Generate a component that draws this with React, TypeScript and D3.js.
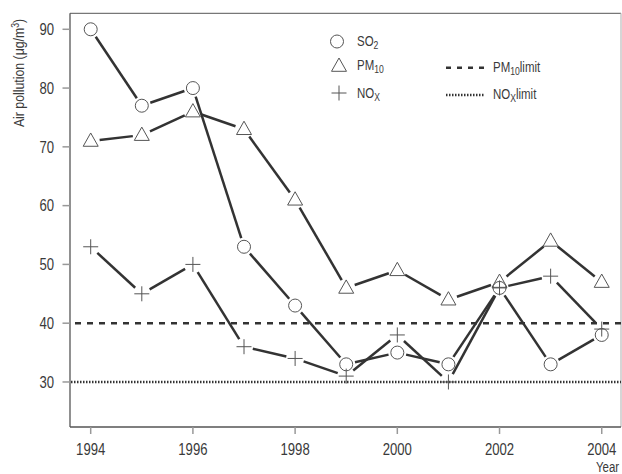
import React from "react";
import * as d3 from "d3";

const years = [1994, 1995, 1996, 1997, 1998, 1999, 2000, 2001, 2002, 2003, 2004];
const so2 = [90, 77, 80, 53, 43, 33, 35, 33, 46, 33, 38];
const pm10 = [71, 72, 76, 73, 61, 46, 49, 44, 47, 54, 47];
const nox = [53, 45, 50, 36, 34, 31, 38, 30, 46, 48, 39];
const yTicks = [30, 40, 50, 60, 70, 80, 90];
const xTicks = [1994, 1996, 1998, 2000, 2002, 2004];
const pm10Limit = 40;
const noxLimit = 30;

const W = 622;
const H = 474;
const FONT = "'Liberation Sans', Arial, sans-serif";
const SX = 0.82;
const TXT = "#3a3a3a";

const x = d3.scaleLinear().domain([1993.595, 2004.377]).range([70, 621]);
const y = d3.scaleLinear().domain([22.34, 92.72]).range([427, 13.3]);

const LINE = "#333";
const MARK = "#555";
const GAP = 9;

function segments(vals: number[]) {
  const out: string[] = [];
  for (let i = 0; i < vals.length - 1; i++) {
    const x1 = x(years[i]), y1 = y(vals[i]);
    const x2 = x(years[i + 1]), y2 = y(vals[i + 1]);
    const dx = x2 - x1, dy = y2 - y1;
    const len = Math.hypot(dx, dy);
    if (len <= 2 * GAP) continue;
    const ux = dx / len, uy = dy / len;
    const p = d3.path();
    p.moveTo(x1 + ux * GAP, y1 + uy * GAP);
    p.lineTo(x2 - ux * GAP, y2 - uy * GAP);
    out.push(p.toString());
  }
  return out;
}

const T = ({ x: tx, y: ty, rot = 0, children, ...rest }: any) => (
  <text transform={`translate(${tx},${ty}) rotate(${rot}) scale(${SX},1)`} {...rest}>
    {children}
  </text>
);

const Circle = ({ cx, cy }: { cx: number; cy: number }) => (
  <circle cx={cx} cy={cy} r={6.5} fill="none" stroke={MARK} strokeWidth={1} />
);
const Tri = ({ cx, cy }: { cx: number; cy: number }) => (
  <path
    d={`M${cx},${cy - 8} L${cx + 7.5},${cy + 5.3} L${cx - 7.5},${cy + 5.3} Z`}
    fill="none"
    stroke={MARK}
    strokeWidth={1}
  />
);
const Plus = ({ cx, cy }: { cx: number; cy: number }) => (
  <path
    d={`M${cx - 7.5},${cy} H${cx + 7.5} M${cx},${cy - 7.5} V${cy + 7.5}`}
    fill="none"
    stroke={MARK}
    strokeWidth={1}
  />
);

export default function App() {
  const series = [
    { vals: so2, M: Circle },
    { vals: pm10, M: Tri },
    { vals: nox, M: Plus },
  ];
  return (
    <svg
      width={W}
      height={H}
      style={{ position: "absolute", left: 0, top: 0, background: "#fff" }}
      fontFamily={FONT}
    >
      {/* frame */}
      <line x1={70} x2={621} y1={13.3} y2={13.3} stroke="#777" strokeWidth={1.2} />
      <line x1={621} x2={621} y1={13.3} y2={427} stroke="#bbb" strokeWidth={1.2} />
      <line x1={70} x2={70} y1={13.3} y2={427} stroke="#555" strokeWidth={1.3} />
      <line x1={70} x2={621} y1={427} y2={427} stroke="#555" strokeWidth={1.3} />

      {/* y ticks */}
      {yTicks.map((t) => (
        <g key={t}>
          <line x1={62.5} x2={70} y1={y(t)} y2={y(t)} stroke="#999" strokeWidth={1.5} />
          <T x={54} y={y(t)} dy="0.36em" textAnchor="end" fontSize={16} fill={TXT}>
            {t}
          </T>
        </g>
      ))}
      {/* x ticks */}
      {xTicks.map((t) => (
        <g key={t}>
          <line x1={x(t)} x2={x(t)} y1={427} y2={434} stroke="#999" strokeWidth={1.5} />
          <T x={x(t)} y={455} textAnchor="middle" fontSize={16} fill={TXT}>
            {t}
          </T>
        </g>
      ))}

      {/* axis titles */}
      <T x={24} y={73} rot={-90} textAnchor="middle" fontSize={15} fill={TXT}>
        Air pollution (μg/m<tspan dy={-5} fontSize={10.5}>3</tspan>
        <tspan dy={5}>)</tspan>
      </T>
      <T x={596} y={472} fontSize={14} fill={TXT}>
        Year
      </T>

      {/* limit lines */}
      <line x1={71} x2={621} y1={y(pm10Limit)} y2={y(pm10Limit)} stroke={LINE} strokeWidth={2.5} strokeDasharray="6 6" strokeDashoffset={-4} />
      <line x1={71} x2={621} y1={y(noxLimit)} y2={y(noxLimit)} stroke={LINE} strokeWidth={2.5} strokeDasharray="1.5 1.5" />

      {/* series */}
      {series.map((s, i) => (
        <g key={i}>
          {segments(s.vals).map((d, j) => (
            <path key={j} d={d} stroke={LINE} strokeWidth={2.5} fill="none" />
          ))}
          {s.vals.map((v, j) => (
            <s.M key={j} cx={x(years[j])} cy={y(v)} />
          ))}
        </g>
      ))}

      {/* legend */}
      <g fontSize={14} fill={TXT}>
        <Circle cx={337} cy={41.5} />
        <T x={357} y={46}>
          SO<tspan dy={3} fontSize={10.5}>2</tspan>
        </T>
        <Tri cx={339} cy={66} />
        <T x={357} y={70}>
          PM<tspan dy={3} fontSize={10.5}>10</tspan>
        </T>
        <Plus cx={339} cy={93} />
        <T x={357} y={98}>
          NO<tspan dy={3} fontSize={10.5}>X</tspan>
        </T>

        <line x1={446} x2={485} y1={67.7} y2={67.7} stroke={LINE} strokeWidth={2.5} strokeDasharray="5 6" />
        <T x={493} y={72}>
          PM<tspan dy={3} fontSize={10.5}>10</tspan>
          <tspan dy={-3}>limit</tspan>
        </T>
        <line x1={446} x2={484} y1={95} y2={95} stroke={LINE} strokeWidth={2.5} strokeDasharray="1.5 1.5" />
        <T x={493} y={99}>
          NO<tspan dy={3} fontSize={10.5}>X</tspan>
          <tspan dy={-3}>limit</tspan>
        </T>
      </g>
    </svg>
  );
}
